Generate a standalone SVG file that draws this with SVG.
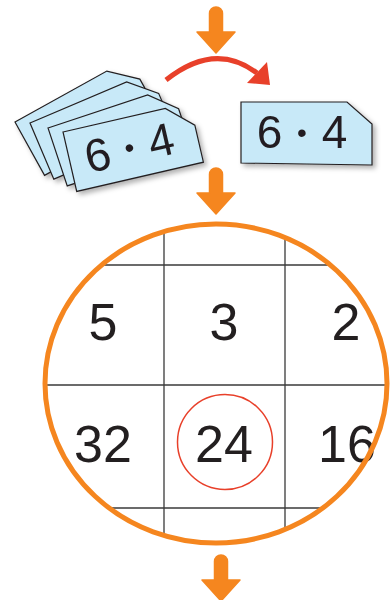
<svg xmlns="http://www.w3.org/2000/svg" width="390" height="600" viewBox="0 0 390 600">
  <style>
    .card { fill: #c8e9f8; stroke: #231f20; stroke-width: 1.2; stroke-linejoin: miter; }
    .cardtxt { font-family: "Liberation Sans", Arial, sans-serif; font-size: 46px; fill: #231f20; text-anchor: middle; }
    .dot { font-size: 28px; }
    .num { font-family: "Liberation Sans", Arial, sans-serif; font-size: 52px; fill: #231f20; text-anchor: middle; }
    .grid { stroke: #3a3a3a; stroke-width: 1.3; fill: none; }
    .oarrow { fill: #f5861f; stroke: #f5861f; stroke-width: 1.5; stroke-linejoin: round; }
  </style>
  <defs>
    <filter id="shadow" x="-20%" y="-20%" width="150%" height="160%">
      <feDropShadow dx="3" dy="3" stdDeviation="2.5" flood-color="#000" flood-opacity="0.3"/>
    </filter>
    <polygon id="cardShape" points="0,0 105,0 130,23 130,61 0,61"/>
    <path id="downArrow" d="M-6.5,6.5 A6.5,6.5 0 0 1 6.5,6.5 L6.5,25 L19,25 L0,46 L-19,25 L-6.5,25 Z"/>
    <clipPath id="ellClip">
      <ellipse cx="216" cy="383.5" rx="171" ry="159.5"/>
    </clipPath>
  </defs>

  <g id="connectors">
    <use href="#downArrow" class="oarrow" transform="translate(216,7)"/>
    <use href="#downArrow" class="oarrow" transform="translate(216,168)"/>
    <use href="#downArrow" class="oarrow" transform="translate(221,555)"/>
    <path d="M166,80 Q215,41 257,73" fill="none" stroke="#e8402a" stroke-width="5"/>
    <polygon points="267,62 247,83 270,85" fill="#e8402a"/>
  </g>

  <g id="card-stack" filter="url(#shadow)">
    <use href="#cardShape" class="card" transform="translate(15,122) rotate(-29)"/>
    <use href="#cardShape" class="card" transform="translate(30,123) rotate(-23)"/>
    <use href="#cardShape" class="card" transform="translate(48,128) rotate(-18.4)"/>
    <g transform="translate(63,132) rotate(-13)">
      <use href="#cardShape" class="card"/>
      <text class="cardtxt" x="61" y="46" word-spacing="2">6 <tspan class="dot" dy="-6">•</tspan><tspan dy="6"> 4</tspan></text>
    </g>
  </g>

  <g id="card-drawn" filter="url(#shadow)">
    <polygon class="card" points="241,102 347,102 372,124 372,165 241,163"/>
    <text class="cardtxt" x="302" y="148" word-spacing="2">6 <tspan class="dot" dy="-6">•</tspan><tspan dy="6"> 4</tspan></text>
  </g>

  <g id="grid-circle">
    <g clip-path="url(#ellClip)">
      <line class="grid" x1="164" y1="200" x2="164" y2="560"/>
      <line class="grid" x1="285" y1="200" x2="285" y2="560"/>
      <line class="grid" x1="30" y1="265" x2="400" y2="265"/>
      <line class="grid" x1="30" y1="385" x2="400" y2="385"/>
      <line class="grid" x1="30" y1="508" x2="400" y2="508"/>
    </g>
    <text class="num" x="103" y="340">5</text>
    <text class="num" x="224" y="340">3</text>
    <text class="num" x="346" y="340">2</text>
    <text class="num" x="103" y="462">32</text>
    <text class="num" x="224" y="462">24</text>
    <text class="num" x="347" y="462">16</text>
    <circle cx="225" cy="442" r="47.5" fill="none" stroke="#e8402a" stroke-width="1.5"/>
    <ellipse cx="216" cy="383.5" rx="171" ry="159.5" fill="none" stroke="#f5861f" stroke-width="5"/>
  </g>
</svg>
